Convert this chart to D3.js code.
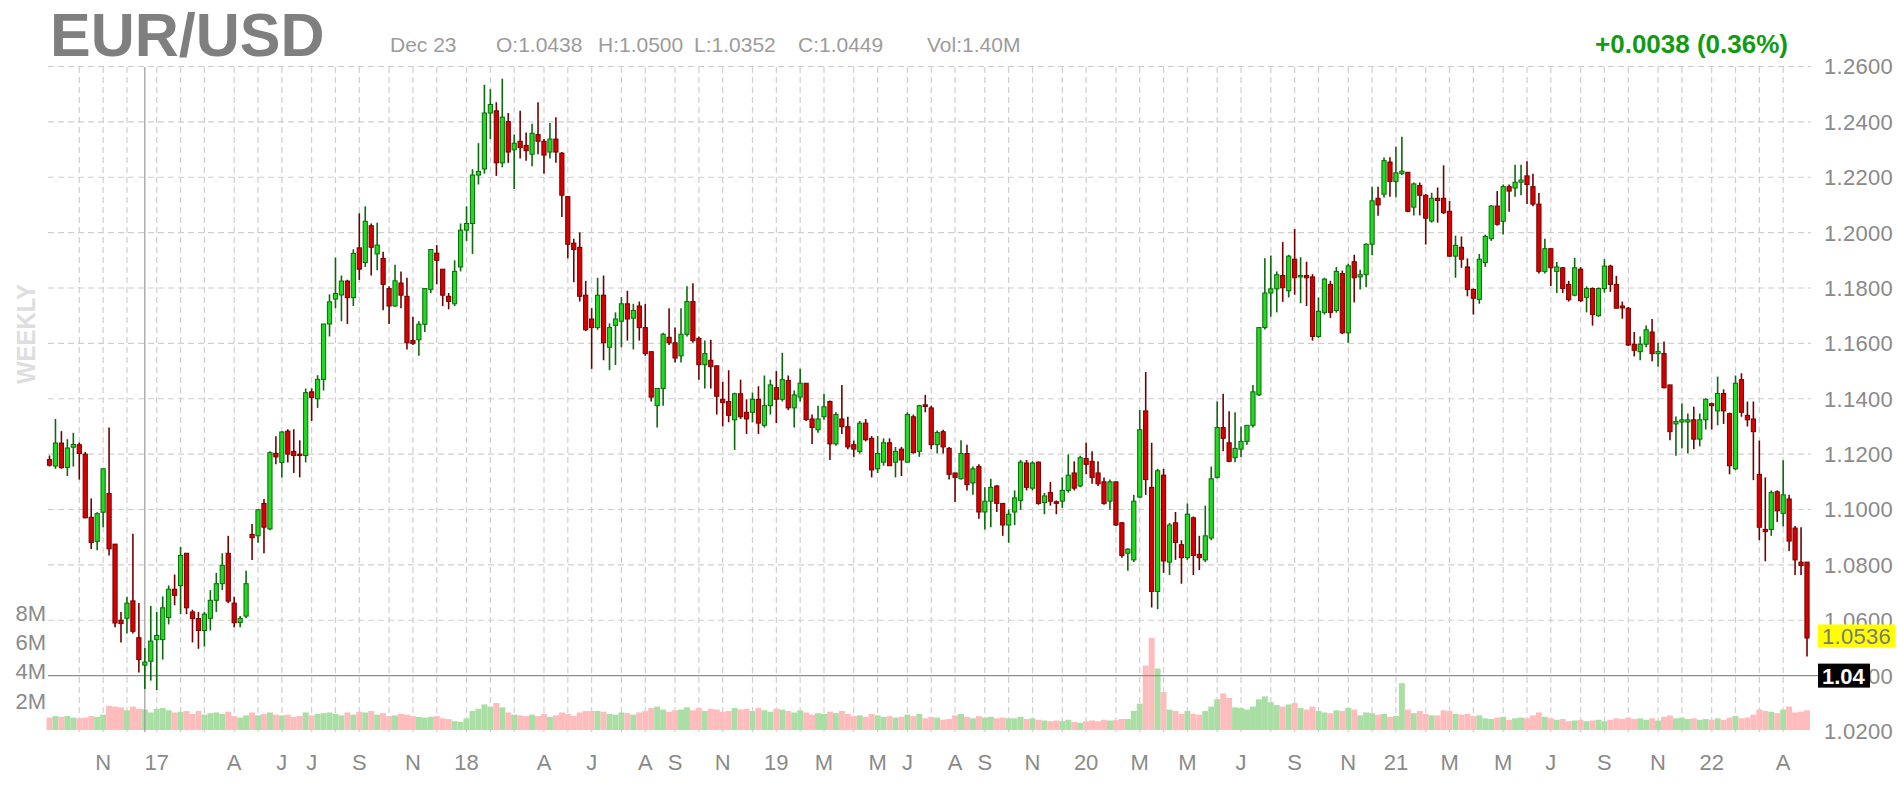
<!DOCTYPE html>
<html><head><meta charset="utf-8">
<script src="https://cdn.jsdelivr.net/npm/d3@7/dist/d3.min.js"></script>
<style>
html,body{margin:0;padding:0;background:#fff;}
svg{display:block;font-family:"Liberation Sans",Arial,sans-serif;}
</style></head>
<body>
<svg id="chart" width="1897" height="788"></svg>
<script>
// ---- DATA (weekly EUR/USD, weeks ending Fridays from 2016-09-02) ----
const firstWeek = "2016-09-02";
const opens = [
1.1180,1.1157,1.1240,1.1152,1.1225,1.1234,1.1200,1.0972,1.0885,1.0990,
1.1058,1.0875,1.0600,1.0607,1.0670,1.0537,1.0438,1.0452,1.0530,1.0530,
1.0610,1.0712,1.0725,1.0842,1.0630,1.0606,1.0563,1.0607,1.0672,1.0732,
1.0842,1.0662,1.0592,1.0615,1.0910,1.0905,1.1022,1.0930,1.1203,1.1170,
1.1283,1.1210,1.1200,1.1195,1.1425,1.1400,1.1470,1.1670,1.1760,1.1775,
1.1825,1.1765,1.1945,1.1892,1.2025,1.1923,1.1907,1.1798,1.1735,1.1818,
1.1770,1.1610,1.1613,1.1669,1.1795,1.1926,1.1868,1.1770,1.1743,1.1876,
1.2009,1.2033,1.2208,1.2230,1.2432,1.2440,1.2252,1.2401,1.2299,1.2330,
1.2315,1.2283,1.2354,1.2330,1.2291,1.2338,1.2287,1.2130,1.1962,1.1947,
1.1774,1.1688,1.1657,1.1774,1.1586,1.1665,1.1680,1.1743,1.1691,1.1735,
1.1657,1.1570,1.1375,1.1437,1.1622,1.1602,1.1555,1.1633,1.1751,1.1618,
1.1523,1.1539,1.1519,1.1398,1.1390,1.1324,1.1418,1.1351,1.1351,1.1398,
1.1304,1.1375,1.1440,1.1398,1.1466,1.1367,1.1406,1.1456,1.1327,1.1288,
1.1335,1.1390,1.1237,1.1327,1.1299,1.1234,1.1210,1.1312,1.1257,1.1147,
1.1171,1.1241,1.1171,1.1218,1.1171,1.1335,1.1210,1.1378,1.1367,1.1234,
1.1281,1.1221,1.1132,1.1111,1.1202,1.1096,1.1155,1.0991,1.1030,1.1085,
1.1022,1.0944,1.0991,1.1033,1.1168,1.1077,1.1171,1.1025,1.1061,1.1028,
1.1030,1.1069,1.1132,1.1085,1.1184,1.1174,1.1132,1.1100,1.1030,1.1100,
1.0952,1.0842,1.0818,1.1045,1.1356,1.1080,1.0704,1.1124,1.0810,1.0952,
1.0873,1.0826,1.0970,1.0838,1.0818,1.0897,1.1116,1.1296,1.1241,1.1187,
1.1218,1.1246,1.1304,1.1414,1.1657,1.1782,1.1797,1.1845,1.1790,1.1904,
1.1840,1.1845,1.1840,1.1625,1.1712,1.1813,1.1719,1.1852,1.1638,1.1895,
1.1840,1.1848,1.1958,1.2124,1.2139,1.2255,1.2185,1.2214,1.2218,1.2092,
1.2170,1.2135,1.2042,1.2124,1.2124,1.2077,1.1915,1.1947,1.1876,1.1795,
1.1759,1.1892,1.1978,1.2096,1.2041,1.2166,1.2161,1.2182,1.2205,1.2166,
1.2103,1.1860,1.1942,1.1860,1.1873,1.1813,1.1774,1.1868,1.1766,1.1798,
1.1700,1.1798,1.1879,1.1813,1.1735,1.1727,1.1597,1.1570,1.1597,1.1641,
1.1563,1.1563,1.1450,1.1309,1.1316,1.1316,1.1324,1.1254,1.1324,1.1382,
1.1356,1.1419,1.1346,1.1147,1.1469,1.1340,1.1327,1.1127,1.0928,1.0928,
1.1064,1.0986,1.1038,1.0933,1.0810,1.0810];
const highs = [
1.1195,1.1327,1.1283,1.1254,1.1277,1.1242,1.1208,1.1040,1.0990,1.1147,
1.1296,1.0875,1.0630,1.0685,1.0912,1.0662,1.0500,1.0652,1.0630,1.0686,
1.0726,1.0765,1.0865,1.0842,1.0638,1.0630,1.0630,1.0709,1.0771,1.0842,
1.0905,1.0685,1.0615,1.0779,1.0948,1.1000,1.1038,1.1210,1.1265,1.1283,
1.1290,1.1290,1.1250,1.1437,1.1437,1.1485,1.1670,1.1777,1.1910,1.1845,
1.1830,1.1940,1.2070,1.2095,1.2033,1.2036,1.1931,1.1806,1.1884,1.1860,
1.1837,1.1696,1.1680,1.1798,1.1939,1.1955,1.1868,1.1782,1.1900,1.2033,
1.2095,1.2229,1.2323,1.2534,1.2518,1.2471,1.2556,1.2432,1.2354,1.2440,
1.2362,1.2393,1.2471,1.2338,1.2396,1.2417,1.2291,1.2130,1.1978,1.2001,
1.1826,1.1727,1.1837,1.1845,1.1672,1.1712,1.1767,1.1790,1.1743,1.1751,
1.1743,1.1570,1.1437,1.1638,1.1727,1.1657,1.1727,1.1806,1.1817,1.1625,
1.1610,1.1613,1.1519,1.1461,1.1503,1.1422,1.1469,1.1398,1.1422,1.1445,
1.1484,1.1469,1.1500,1.1566,1.1484,1.1430,1.1508,1.1456,1.1343,1.1375,
1.1418,1.1394,1.1351,1.1450,1.1335,1.1249,1.1320,1.1327,1.1265,1.1265,
1.1257,1.1257,1.1226,1.1226,1.1351,1.1343,1.1378,1.1414,1.1375,1.1285,
1.1288,1.1226,1.1132,1.1250,1.1234,1.1155,1.1163,1.1080,1.1111,1.1088,
1.1022,1.1000,1.1069,1.1179,1.1179,1.1174,1.1174,1.1060,1.1100,1.1033,
1.1116,1.1199,1.1174,1.1194,1.1241,1.1210,1.1174,1.1116,1.1108,1.1100,
1.0955,1.0860,1.1053,1.1359,1.1497,1.1241,1.1147,1.1147,1.0952,1.0991,
1.0889,1.1022,1.0975,1.0905,1.1014,1.1155,1.1390,1.1418,1.1355,1.1351,
1.1300,1.1304,1.1450,1.1657,1.1907,1.1917,1.1860,1.1966,1.1920,1.2013,
1.1911,1.1895,1.1850,1.1766,1.1837,1.1826,1.1876,1.1863,1.1888,1.1920,
1.1866,1.1962,1.2166,1.2166,1.2271,1.2272,1.2310,1.2346,1.2218,1.2181,
1.2181,1.2140,1.2144,1.2163,1.2243,1.2114,1.1989,1.1986,1.1907,1.1798,
1.1923,1.1993,1.2099,1.2150,1.2174,1.2174,1.2245,1.2245,1.2258,1.2213,
1.2143,1.1978,1.1942,1.1894,1.1876,1.1826,1.1909,1.1876,1.1806,1.1802,
1.1802,1.1904,1.1884,1.1844,1.1751,1.1732,1.1641,1.1625,1.1665,1.1688,
1.1602,1.1607,1.1450,1.1336,1.1383,1.1347,1.1371,1.1347,1.1402,1.1386,
1.1480,1.1434,1.1350,1.1484,1.1492,1.1390,1.1390,1.1249,1.1116,1.1069,
1.1069,1.1178,1.1053,1.0940,1.0936,1.0810];
const lows = [
1.1155,1.1147,1.1147,1.1121,1.1155,1.1108,1.0968,1.0857,1.0853,1.0936,
1.0834,1.0575,1.0520,1.0552,1.0552,1.0411,1.0352,1.0382,1.0348,1.0458,
1.0585,1.0654,1.0622,1.0622,1.0520,1.0497,1.0505,1.0563,1.0630,1.0709,
1.0662,1.0575,1.0575,1.0607,1.0818,1.0880,1.0842,1.0925,1.1163,1.1116,
1.1170,1.1132,1.1116,1.1170,1.1320,1.1367,1.1430,1.1625,1.1727,1.1680,
1.1670,1.1735,1.1829,1.1876,1.1845,1.1864,1.1720,1.1670,1.1732,1.1727,
1.1578,1.1594,1.1555,1.1641,1.1782,1.1813,1.1735,1.1723,1.1735,1.1860,
1.1970,1.1923,1.2174,1.2213,1.2338,1.2205,1.2236,1.2252,1.2158,1.2268,
1.2260,1.2240,1.2283,1.2213,1.2268,1.2252,1.2056,1.1907,1.1821,1.1751,
1.1644,1.1508,1.1649,1.1539,1.1503,1.1522,1.1586,1.1610,1.1578,1.1610,
1.1555,1.1390,1.1296,1.1375,1.1594,1.1531,1.1531,1.1625,1.1602,1.1469,
1.1437,1.1437,1.1343,1.1300,1.1315,1.1215,1.1327,1.1273,1.1315,1.1273,
1.1296,1.1343,1.1312,1.1390,1.1359,1.1296,1.1390,1.1320,1.1237,1.1277,
1.1324,1.1179,1.1230,1.1273,1.1218,1.1190,1.1202,1.1246,1.1116,1.1132,
1.1158,1.1158,1.1116,1.1121,1.1171,1.1202,1.1190,1.1351,1.1218,1.1202,
1.1202,1.1108,1.1027,1.1108,1.1069,1.1053,1.0967,1.0928,1.0936,1.0991,
1.0905,1.0880,1.0944,1.0999,1.1069,1.1069,1.1017,1.0983,1.1014,1.0983,
1.1006,1.1061,1.1069,1.1080,1.1127,1.1093,1.1085,1.1017,1.0999,1.0940,
1.0826,1.0779,1.0810,1.1042,1.1053,1.0646,1.0640,1.0771,1.0763,1.0818,
1.0732,1.0818,1.0763,1.0781,1.0810,1.0889,1.1112,1.1210,1.1171,1.1171,
1.1190,1.1234,1.1296,1.1410,1.1650,1.1696,1.1712,1.1750,1.1766,1.1776,
1.1745,1.1735,1.1610,1.1620,1.1704,1.1692,1.1711,1.1633,1.1602,1.1748,
1.1795,1.1803,1.1918,1.2061,1.2127,1.2130,1.2128,1.2208,1.2074,1.2062,
1.2062,1.1957,1.2036,1.2036,1.2067,1.1912,1.1837,1.1873,1.1770,1.1704,
1.1743,1.1876,1.1970,1.2025,1.1993,1.2075,1.2130,1.2135,1.2103,1.2095,
1.1852,1.1852,1.1807,1.1782,1.1782,1.1751,1.1770,1.1750,1.1712,1.1664,
1.1696,1.1783,1.1786,1.1727,1.1689,1.1591,1.1553,1.1539,1.1586,1.1535,
1.1516,1.1437,1.1250,1.1194,1.1221,1.1202,1.1218,1.1228,1.1289,1.1289,
1.1304,1.1309,1.1127,1.1142,1.1335,1.1300,1.1106,1.0889,1.0813,1.0905,
1.0955,1.0939,1.0850,1.0763,1.0763,1.0469];
const closes = [
1.1160,1.1240,1.1151,1.1222,1.1235,1.1202,1.0970,1.0881,1.0985,1.1147,
1.0858,1.0590,1.0588,1.0662,1.0560,1.0458,1.0449,1.0525,1.0545,1.0645,
1.0712,1.0690,1.0834,1.0645,1.0606,1.0563,1.0622,1.0672,1.0732,1.0798,
1.0669,1.0591,1.0607,1.0732,1.0898,1.0999,1.0936,1.1205,1.1190,1.1280,
1.1200,1.1195,1.1195,1.1422,1.1405,1.1470,1.1670,1.1750,1.1780,1.1825,
1.1765,1.1925,1.1868,1.2041,1.1947,1.1955,1.1813,1.1735,1.1826,1.1774,
1.1602,1.1600,1.1669,1.1798,1.1939,1.1900,1.1774,1.1751,1.1860,1.2009,
1.2033,1.2208,1.2221,1.2432,1.2463,1.2252,1.2417,1.2291,1.2323,1.2307,
1.2296,1.2359,1.2330,1.2280,1.2338,1.2291,1.2135,1.1958,1.1939,1.1770,
1.1649,1.1657,1.1774,1.1602,1.1657,1.1688,1.1743,1.1688,1.1719,1.1657,
1.1563,1.1406,1.1437,1.1633,1.1602,1.1547,1.1633,1.1751,1.1610,1.1523,
1.1563,1.1516,1.1409,1.1386,1.1340,1.1418,1.1335,1.1327,1.1398,1.1312,
1.1375,1.1450,1.1398,1.1469,1.1367,1.1414,1.1456,1.1325,1.1296,1.1327,
1.1371,1.1237,1.1343,1.1299,1.1226,1.1218,1.1312,1.1252,1.1143,1.1202,
1.1241,1.1158,1.1210,1.1179,1.1343,1.1205,1.1375,1.1372,1.1234,1.1278,
1.1226,1.1127,1.1116,1.1202,1.1090,1.1147,1.0991,1.1030,1.1080,1.1022,
1.0944,1.0983,1.1042,1.1171,1.1080,1.1168,1.1022,1.1049,1.1030,1.1022,
1.1069,1.1124,1.1077,1.1187,1.1163,1.1116,1.1093,1.1022,1.1100,1.0944,
1.0834,1.0857,1.1030,1.1288,1.1108,1.0704,1.1140,1.0814,1.0944,1.0881,
1.0826,1.0983,1.0834,1.0826,1.0905,1.1111,1.1296,1.1257,1.1174,1.1221,
1.1246,1.1304,1.1425,1.1657,1.1782,1.1797,1.1848,1.1801,1.1915,1.1837,
1.1845,1.1837,1.1625,1.1716,1.1832,1.1712,1.1860,1.1638,1.1880,1.1837,
1.1848,1.1958,1.2115,1.2100,1.2260,1.2185,1.2216,1.2222,1.2077,1.2176,
1.2135,1.2052,1.2124,1.2116,1.2072,1.1915,1.1954,1.1904,1.1795,1.1763,
1.1904,1.1986,1.2096,1.2030,1.2166,1.2150,1.2182,1.2190,1.2174,1.2103,
1.1860,1.1942,1.1873,1.1876,1.1798,1.1758,1.1873,1.1754,1.1798,1.1704,
1.1798,1.1879,1.1813,1.1727,1.1728,1.1594,1.1575,1.1597,1.1649,1.1563,
1.1571,1.1440,1.1281,1.1318,1.1324,1.1324,1.1254,1.1324,1.1398,1.1375,
1.1419,1.1356,1.1158,1.1456,1.1351,1.1324,1.1281,1.0936,1.0920,1.1061,
1.0995,1.1053,1.0886,1.0818,1.0798,1.0536];
// volume, millions
const volumes = [
0.85,0.95,0.90,0.95,0.85,0.80,0.85,0.95,0.90,1.05,
1.65,1.60,1.55,1.35,1.60,1.45,1.40,1.20,1.45,1.50,
1.35,1.20,1.25,1.30,1.10,1.30,1.05,1.15,1.20,1.10,
1.25,0.95,0.85,1.00,1.20,1.00,1.10,1.20,1.05,1.00,
1.05,0.90,0.95,1.20,1.00,1.10,1.15,1.20,1.10,1.00,
1.20,1.05,1.25,1.20,1.30,1.05,1.15,0.95,1.00,1.10,
1.05,0.95,0.90,0.85,0.90,0.95,0.80,0.75,0.60,0.55,
0.80,1.30,1.45,1.75,1.60,1.85,1.55,1.20,1.05,1.00,
0.95,1.05,0.95,1.10,0.90,1.00,1.20,1.10,0.95,1.20,
1.30,1.30,1.30,1.25,1.10,1.05,1.20,1.15,1.05,1.20,
1.30,1.50,1.60,1.40,1.25,1.35,1.40,1.55,1.35,1.50,
1.30,1.45,1.40,1.25,1.30,1.50,1.40,1.45,1.30,1.50,
1.35,1.25,1.45,1.40,1.30,1.20,1.35,1.20,1.05,1.15,
1.10,1.25,1.15,1.30,1.10,0.95,1.00,0.90,1.10,1.00,
0.90,0.95,0.85,0.90,1.05,0.95,1.10,0.80,0.90,0.85,
0.70,0.75,1.00,1.10,0.90,0.80,0.95,0.85,0.90,0.80,
0.85,0.80,0.80,0.90,0.75,0.80,0.70,0.65,0.60,0.65,
0.60,0.70,0.55,0.50,0.60,0.65,0.60,0.70,0.65,0.70,
0.75,0.75,1.30,1.80,4.40,6.30,4.20,2.60,1.40,1.30,
1.10,1.30,1.10,1.05,1.30,1.60,2.10,2.50,2.20,1.55,
1.50,1.40,1.60,2.10,2.30,1.90,1.70,1.60,1.75,1.85,
1.50,1.40,1.60,1.30,1.20,1.15,1.35,1.30,1.50,1.40,
1.00,1.20,1.15,1.05,1.10,0.90,0.95,3.20,1.40,1.15,
1.30,1.10,1.00,1.00,1.35,1.30,1.10,1.05,1.10,0.95,
1.00,0.80,0.75,0.85,0.90,0.70,0.80,0.85,0.80,1.00,
1.20,0.90,0.80,0.70,0.75,0.60,0.65,0.70,0.60,0.65,
0.70,0.60,0.70,0.80,0.75,0.85,0.75,0.80,0.70,0.80,
0.65,0.90,1.00,0.80,0.85,0.75,0.80,0.70,0.75,0.70,
0.80,0.70,0.85,0.95,0.80,0.85,1.05,1.40,1.30,1.25,
1.15,1.40,1.60,1.20,1.25,1.35];
const priceTicks = [1.26,1.24,1.22,1.20,1.18,1.16,1.14,1.12,1.10,1.08,1.06,1.04,1.02];
const volumeTicks = [2,4,6,8];
const xTickMonths = ["2016-11","2017-01","2017-04","2017-06","2017-07","2017-09","2017-11","2018-01","2018-04","2018-06","2018-08","2018-09","2018-11","2019-01","2019-03","2019-05","2019-06","2019-08","2019-09","2019-11","2020-01","2020-03","2020-05","2020-07","2020-09","2020-11","2021-01","2021-03","2021-05","2021-07","2021-09","2021-11","2022-01","2022-04"];
const xTickLabels = ["N","17","A","J","J","S","N","18","A","J","A","S","N","19","M","M","J","A","S","N","20","M","M","J","S","N","21","M","M","J","S","N","22","A"];
const crosshairIndex = 16;
const crosshairPrice = 1.04;
const lastPrice = 1.0536;
const header = {date:"Dec 23", o:"O:1.0438", h:"H:1.0500", l:"L:1.0352", c:"C:1.0449", vol:"Vol:1.40M", change:"+0.0038 (0.36%)"};

// ---- BUILD ----
const parse = d3.timeParse("%Y-%m-%d");
const start = parse(firstWeek);
const data = opens.map((o,i)=>({
  date: d3.timeWeek.offset(start, i), i,
  o, h: highs[i], l: lows[i], c: closes[i], v: volumes[i]
}));
const svg = d3.select("#chart");
const L = 48, R = 1811;
const x = d3.scaleTime().domain([data[0].date, data[data.length-1].date]).range([49.5, 1807]);
const y = d3.scaleLinear().domain([1.02, 1.26]).range([731, 66.5]);
const yv = d3.scaleLinear().domain([0, 8]).range([730, 613]);
const step = x(data[1].date) - x(data[0].date);

// horizontal grid
svg.append("g").selectAll("line").data(priceTicks.filter(t=>t>1.021 && Math.abs(t-crosshairPrice)>1e-6)).join("line")
  .attr("x1",L).attr("x2",R).attr("y1",d=>y(d)).attr("y2",d=>y(d))
  .attr("stroke","#cfcfcf").attr("stroke-width",1.2).attr("stroke-dasharray","6,4");

// vertical month grid (first week of each month)
const monthStarts = data.filter((d,i)=> i>0 && d.date.getMonth() !== data[i-1].date.getMonth());
svg.append("g").selectAll("line").data(monthStarts).join("line")
  .attr("x1",d=>x(d.date)).attr("x2",d=>x(d.date)).attr("y1",67).attr("y2",732)
  .attr("stroke","#cfcfcf").attr("stroke-width",1.2).attr("stroke-dasharray","6,4");

// volume bars
svg.append("g").selectAll("rect").data(data).join("rect")
  .attr("x",d=>x(d.date)-step/2).attr("width",step)
  .attr("y",d=>yv(d.v)).attr("height",d=>yv(0)-yv(d.v))
  .attr("fill",d=>d.c>=d.o ? "#abdea4" : "#ffbcbc");

// crosshair lines
svg.append("line").attr("x1",x(data[crosshairIndex].date)).attr("x2",x(data[crosshairIndex].date))
  .attr("y1",67).attr("y2",732).attr("stroke","#9a9a9a").attr("stroke-width",1.2);
svg.append("line").attr("x1",L).attr("x2",1818).attr("y1",y(crosshairPrice)).attr("y2",y(crosshairPrice))
  .attr("stroke","#8c8c8c").attr("stroke-width",1.3);

// candles
const up = d=>d.c>=d.o;
const cg = svg.append("g");
cg.selectAll("line").data(data).join("line")
  .attr("x1",d=>x(d.date)).attr("x2",d=>x(d.date))
  .attr("y1",d=>y(d.h)).attr("y2",d=>y(d.l))
  .attr("stroke",d=>up(d)?"#0b6a0b":"#730000").attr("stroke-width",1.6);
cg.selectAll("rect").data(data).join("rect")
  .attr("x",d=>x(d.date)-2.1).attr("width",4.2)
  .attr("y",d=>y(Math.max(d.o,d.c)))
  .attr("height",d=>Math.max(1, Math.abs(y(d.o)-y(d.c))))
  .attr("fill",d=>up(d)?"#22d922":"#d60000")
  .attr("stroke",d=>up(d)?"#0b6a0b":"#730000").attr("stroke-width",1);

// right price axis labels
svg.append("g").selectAll("text").data(priceTicks).join("text")
  .attr("x",1824).attr("y",d=>y(d)).attr("dy","0.36em")
  .attr("font-size",22).attr("fill","#8a8a8a").attr("letter-spacing","0.3")
  .text(d=>d3.format(".4f")(d));

// volume labels
svg.append("g").selectAll("text").data(volumeTicks).join("text")
  .attr("x",46).attr("y",d=>yv(d)).attr("dy","0.36em").attr("text-anchor","end")
  .attr("font-size",22).attr("fill","#8a8a8a")
  .text(d=>d+"M");

// x labels
const monthFmt = d3.timeFormat("%Y-%m");
svg.append("g").selectAll("text").data(xTickMonths).join("text")
  .attr("x",(m)=>{const d=data.find(e=>monthFmt(e.date)===m); return x(d.date);})
  .attr("y",762).attr("dy","0.36em").attr("text-anchor","middle")
  .attr("font-size",22).attr("fill","#8a8a8a")
  .text((m,i)=>xTickLabels[i]);

// last price label (yellow)
const ly = y(lastPrice)-2;
svg.append("rect").attr("x",1818).attr("y",ly-11.5).attr("width",77).attr("height",23).attr("fill","#ffff00");
svg.append("text").attr("x",1822).attr("y",ly).attr("dy","0.36em").attr("font-size",22)
  .attr("fill","#7a7a7a").attr("letter-spacing","0.3").text(d3.format(".4f")(lastPrice));
// crosshair price label (black)
const cy = y(crosshairPrice);
svg.append("rect").attr("x",1818).attr("y",cy-12).attr("width",52).attr("height",24).attr("fill","#000");
svg.append("text").attr("x",1822).attr("y",cy).attr("dy","0.36em").attr("font-size",22)
  .attr("font-weight","bold").attr("fill","#fff").text(d3.format(".2f")(crosshairPrice));

// titles
svg.append("text").attr("x",50).attr("y",55.5).attr("font-size",61).attr("font-weight","bold")
  .attr("fill","#7f7f7f").text("EUR/USD");
const hdr = [[390,header.date],[496,header.o],[598,header.h],[694,header.l],[798,header.c],[927,header.vol]];
svg.append("g").selectAll("text").data(hdr).join("text")
  .attr("x",d=>d[0]).attr("y",52).attr("font-size",21).attr("fill","#9c9c9c").text(d=>d[1]);
svg.append("text").attr("x",1788).attr("y",53).attr("text-anchor","end").attr("font-size",26)
  .attr("font-weight","bold").attr("fill","#139a13").text(header.change);
svg.append("text").attr("transform","translate(35,334) rotate(-90)").attr("text-anchor","middle")
  .attr("font-size",25).attr("font-weight","bold").attr("fill","#dedede")
  .attr("textLength",100).attr("lengthAdjust","spacingAndGlyphs").text("WEEKLY");
</script>
</body></html>
